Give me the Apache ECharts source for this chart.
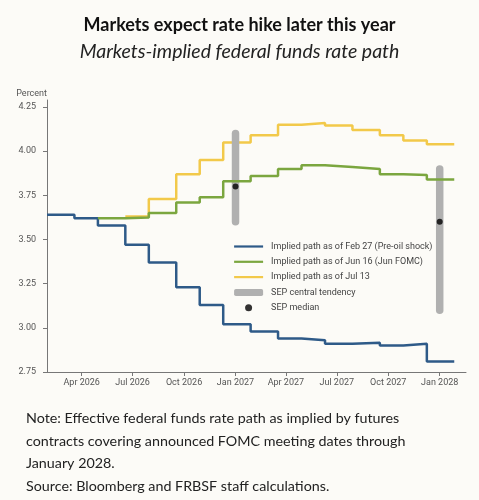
<!DOCTYPE html>
<html>
<head>
<meta charset="utf-8">
<script src="https://cdn.jsdelivr.net/npm/echarts@6/dist/echarts.min.js"></script>
<style>
  html, body { margin: 0; padding: 0; background: #fcfbf7; }
  #echarts { width: 479px; height: 500px; }
</style>
</head>
<body>
<div id="echarts"></div>
<script>
// FOMC 会后日期 (step 起点)
var stepDates = [
  "2026-01-29", "2026-03-19", "2026-04-30", "2026-06-18", "2026-07-30",
  "2026-09-17", "2026-10-29", "2026-12-10", "2027-01-28", "2027-03-18",
  "2027-04-29", "2027-06-10", "2027-07-29", "2027-09-16", "2027-10-28",
  "2027-12-09", "2028-01-27"
];
// Feb 27 (Pre-oil shock) 路径, 最后一个值是终点
var febPath = [3.64, 3.62, 3.58, 3.47, 3.37, 3.23, 3.13, 3.02, 2.98, 2.94, 2.93, 2.91, 2.915, 2.90, 2.91, 2.81, 2.81];
// Jun 16 路径 (从 2026-04-30 开始)
var junPath = [null, null, 3.62, 3.625, 3.65, 3.71, 3.74, 3.83, 3.86, 3.90, 3.92, 3.91, 3.90, 3.87, 3.865, 3.84, 3.84];
// Jul 13 路径 (从 2026-06-18 开始)
var julPath = [null, null, null, 3.63, 3.73, 3.87, 3.95, 4.05, 4.09, 4.15, 4.16, 4.145, 4.12, 4.09, 4.06, 4.04, 4.04];

// SEP
var sepDates = ["2027-01-01", "2028-01-01"];
var sepLow = [3.6, 3.1];
var sepHigh = [4.1, 3.9];
var sepMedian = [3.8, 3.6];

// 坐标轴刻度
var xRange = ["2026-01-29", "2028-02-17"];
var tickDates = ["2026-04-01", "2026-07-01", "2026-10-01", "2027-01-01", "2027-04-01", "2027-07-01", "2027-10-01", "2028-01-01"];
var tickLabels = ["Apr 2026", "Jul 2026", "Oct 2026", "Jan 2027", "Apr 2027", "Jul 2027", "Oct 2027", "Jan 2028"];
var yTicks = [2.75, 3.0, 3.25, 3.5, 3.75, 4.0, 4.25];

var legendNames = [
  "Implied path as of Feb 27 (Pre-oil shock)",
  "Implied path as of Jun 16 (Jun FOMC)",
  "Implied path as of Jul 13",
  "SEP central tendency",
  "SEP median"
];

var BLUE = "#2e5a88", GREEN = "#7ba63f", YELLOW = "#f2c94a", GRAY = "#b0b0b0";

function ts(d) {
  return new Date(d + "T00:00:00").getTime();
}
function toPairs(vals) {
  var out = [];
  for (var i = 0; i < stepDates.length; i++) {
    if (vals[i] != null) out.push([ts(stepDates[i]), vals[i]]);
  }
  return out;
}
var tickTs = tickDates.map(ts);

var chartDom = document.getElementById("echarts");
var myChart = echarts.init(chartDom);
var option;

var axisFont = "Roboto";

option = {
  backgroundColor: "#fcfbf7",
  animation: false,
  title: [
    {
      text: "Markets expect rate hike later this year",
      left: "center",
      top: 11,
      textStyle: { fontFamily: "Lato", fontWeight: "bold", fontSize: 18, color: "#111" }
    },
    {
      text: "Markets-implied federal funds rate path",
      left: "center",
      top: 37,
      textStyle: { fontFamily: "Lato", fontStyle: "italic", fontWeight: "normal", fontSize: 19.5, color: "#222" }
    },
    {
      text: "Note: Effective federal funds rate path as implied by futures\ncontracts covering announced FOMC meeting dates through\nJanuary 2028.\nSource: Bloomberg and FRBSF staff calculations.",
      left: 21,
      top: 402,
      textStyle: { fontFamily: "Lato", fontWeight: "normal", fontSize: 14.3, lineHeight: 22.6, color: "#222" }
    }
  ],
  grid: { left: 47, right: 13, top: 100, bottom: 128 },
  legend: {
    orient: "vertical",
    left: 233,
    top: 241,
    padding: 0,
    itemWidth: 29,
    itemHeight: 7,
    itemGap: 4.3,
    textStyle: { fontFamily: axisFont, fontSize: 9, color: "#444", lineHeight: 11, padding: [0, 0, 0, 3] },
    data: [
      { name: legendNames[0], itemStyle: { opacity: 0 }, lineStyle: { width: 2.2 } },
      { name: legendNames[1], itemStyle: { opacity: 0 }, lineStyle: { width: 2.2 } },
      { name: legendNames[2], itemStyle: { opacity: 0 }, lineStyle: { width: 2.2 } },
      { name: legendNames[3], icon: "roundRect", itemStyle: { color: GRAY } },
      { name: legendNames[4], icon: "circle", itemStyle: { color: "#000" } }
    ]
  },
  xAxis: {
    type: "value",
    min: ts(xRange[0]),
    max: ts(xRange[1]),
    splitLine: { show: false },
    axisLine: { lineStyle: { color: "#777", width: 1 } },
    axisTick: { show: true, length: 4, customValues: tickTs, lineStyle: { color: "#777" } },
    axisLabel: {
      customValues: tickTs,
      fontFamily: axisFont,
      fontSize: 9,
      color: "#555",
      margin: 6,
      formatter: function (v) {
        var i = tickTs.indexOf(v);
        return i >= 0 ? tickLabels[i] : "";
      }
    }
  },
  yAxis: {
    type: "value",
    min: 2.75,
    max: 4.29,
    name: "Percent",
    nameLocation: "end",
    nameGap: 2,
    nameTextStyle: { fontFamily: axisFont, fontSize: 9, color: "#555", align: "right" },
    splitLine: { show: false },
    axisLine: { show: true, lineStyle: { color: "#777", width: 1 } },
    axisTick: { show: true, length: 4, customValues: yTicks, lineStyle: { color: "#777" } },
    axisLabel: {
      customValues: yTicks,
      fontFamily: axisFont,
      fontSize: 9,
      color: "#555",
      margin: 11,
      formatter: function (v) { return v.toFixed(2); }
    }
  },
  series: [
    {
      name: legendNames[0],
      type: "line",
      step: "end",
      symbol: "none",
      z: 2,
      lineStyle: { color: BLUE, width: 2.5 },
      itemStyle: { color: BLUE },
      data: toPairs(febPath)
    },
    {
      name: legendNames[2],
      type: "line",
      step: "end",
      symbol: "none",
      z: 2,
      lineStyle: { color: YELLOW, width: 2.5 },
      itemStyle: { color: YELLOW },
      data: toPairs(julPath)
    },
    {
      name: legendNames[3],
      type: "custom",
      z: 3,
      itemStyle: { color: GRAY },
      renderItem: function (params, api) {
        var p1 = api.coord([api.value(0), api.value(1)]);
        var p2 = api.coord([api.value(0), api.value(2)]);
        return {
          type: "line",
          shape: { x1: p1[0], y1: p1[1], x2: p2[0], y2: p2[1] },
          style: { stroke: GRAY, lineWidth: 7.5, lineCap: "round" }
        };
      },
      encode: { x: 0, y: [1, 2] },
      data: sepDates.map(function (d, i) { return [ts(d), sepLow[i], sepHigh[i]]; })
    },
    {
      name: legendNames[1],
      type: "line",
      step: "end",
      symbol: "none",
      z: 4,
      lineStyle: { color: GREEN, width: 2.5 },
      itemStyle: { color: GREEN },
      data: toPairs(junPath)
    },
    {
      name: legendNames[4],
      type: "scatter",
      z: 5,
      symbolSize: 6,
      itemStyle: { color: "#000" },
      data: sepDates.map(function (d, i) { return [ts(d), sepMedian[i]]; })
    }
  ]
};

option && myChart.setOption(option);
</script>
</body>
</html>
